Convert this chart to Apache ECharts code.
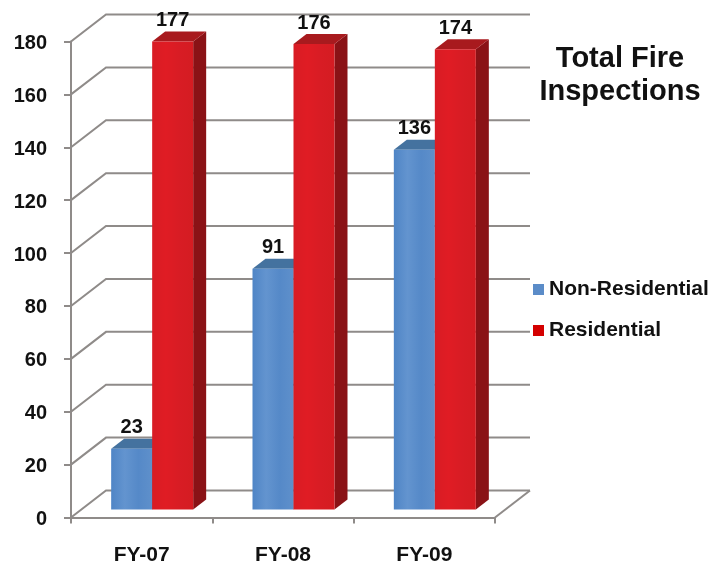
<!DOCTYPE html>
<html>
<head>
<meta charset="utf-8">
<style>html,body{margin:0;padding:0;background:#fff}#c{width:713px;height:563px}</style>
<script src="https://cdn.jsdelivr.net/npm/echarts@6/dist/echarts.min.js"></script>
</head>
<body>
<div id="c"></div>
<script>
const categories = ['FY-07', 'FY-08', 'FY-09'];
const nonResidential = [23, 91, 136];
const residential = [177, 176, 174];
const yTicks = [0, 20, 40, 60, 80, 100, 120, 140, 160, 180];
const FONT = '"Liberation Sans", Arial, sans-serif';
const GRAY = '#8f8b89';
const WALL = [35, -27];      // depth of the chart box
const INSET = [10.5, -8];    // where the bars stand on the floor
const BAR_W = 41;
const BAR_DEPTH = [13, -10];

function poly(points, fill, z2) {
  return { type: 'polygon', shape: { points }, style: { fill }, z2: z2 || 0 };
}
function hGrad(stops) {
  return { type: 'linear', x: 0, y: 0, x2: 1, y2: 0,
    colorStops: stops.map((c, i) => ({ offset: i / (stops.length - 1), color: c })) };
}
function barRenderer(colors, side) {
  return function (params, api) {
    const v = api.value(1);
    const p = api.coord([api.value(0), v]);
    const base = api.coord([api.value(0), 0]);
    const x0 = p[0] + INSET[0] + (side < 0 ? -BAR_W : 0);
    const x1 = x0 + BAR_W;
    const yt = p[1] + INSET[1];
    const yb = base[1] + INSET[1];
    const dx = BAR_DEPTH[0], dy = BAR_DEPTH[1];
    return {
      type: 'group',
      children: [
        poly([[x1, yt], [x1 + dx, yt + dy], [x1 + dx, yb + dy], [x1, yb]], colors.side),
        poly([[x0, yt], [x1, yt], [x1 + dx, yt + dy], [x0 + dx, yt + dy]], colors.top),
        { type: 'rect', shape: { x: x0, y: yt, width: BAR_W, height: yb - yt }, style: { fill: hGrad(colors.front) } },
        { type: 'text', style: {
            x: (x0 + x1) / 2, y: yt - 21, text: String(v), align: 'center', verticalAlign: 'middle',
            font: 'bold 20px ' + FONT, fill: '#111' } }
      ]
    };
  };
}
function wallRenderer(params, api) {
  const cs = params.coordSys;
  const y = api.coord([0, api.value(1)])[1];
  const xl = cs.x, xr = cs.x + cs.width;
  const children = [{
    type: 'polyline',
    shape: { points: [[xl, y], [xl + WALL[0], y + WALL[1]], [xr + WALL[0], y + WALL[1]]] },
    style: { fill: null, stroke: GRAY, lineWidth: 2 }
  }];
  if (api.value(1) === 0) {
    children.push({ type: 'line', shape: { x1: xr, y1: y, x2: xr + WALL[0], y2: y + WALL[1] },
      style: { stroke: GRAY, lineWidth: 2 } });
  }
  return { type: 'group', children };
}

const chart = echarts.init(document.getElementById('c'), null, { renderer: 'canvas' });
chart.setOption({
  animation: false,
  backgroundColor: '#fff',
  title: {
    text: 'Total Fire\nInspections', left: 615, top: 37, textAlign: 'center',
    textStyle: { fontFamily: FONT, fontWeight: 'bold', fontSize: 29, lineHeight: 33, color: '#111' }
  },
  legend: {
    orient: 'vertical', left: 528, top: 274, itemWidth: 11, itemHeight: 11, itemGap: 20, icon: 'rect',
    data: ['Non-Residential', 'Residential'],
    textStyle: { fontFamily: FONT, fontWeight: 'bold', fontSize: 21, color: '#111' }
  },
  grid: { left: 71, top: 41.5, width: 424, height: 476, outerBoundsMode: 'none' },
  xAxis: {
    type: 'category', data: categories,
    axisLine: { lineStyle: { color: GRAY, width: 2 } },
    axisTick: { show: true, length: 6, alignWithLabel: false, lineStyle: { color: GRAY, width: 2 } },
    axisLabel: { fontFamily: FONT, fontWeight: 'bold', fontSize: 21, color: '#111', margin: 27 }
  },
  yAxis: {
    type: 'value', min: 0, max: 180, interval: 20,
    axisLine: { show: true, lineStyle: { color: GRAY, width: 2 } },
    axisTick: { show: true, length: 7, lineStyle: { color: GRAY, width: 2 } },
    splitLine: { show: false },
    axisLabel: { fontFamily: FONT, fontWeight: 'bold', fontSize: 20, color: '#111', margin: 24, verticalAlign: 'top', lineHeight: 4 }
  },
  series: [
    { name: 'wall', type: 'custom', coordinateSystem: 'cartesian2d', silent: true, z: 1,
      renderItem: wallRenderer, encode: { x: 0, y: 1 },
      data: yTicks.map(t => [categories[0], t]) },
    { name: 'Non-Residential', type: 'custom', coordinateSystem: 'cartesian2d', z: 2,
      itemStyle: { color: '#5b8cc8' }, encode: { x: 0, y: 1 },
      renderItem: barRenderer({ front: ['#4f85c6', '#6394cf', '#5589c8', '#5f90cb'], top: '#44729f', side: '#35587d' }, -1),
      data: categories.map((c, i) => [c, nonResidential[i]]) },
    { name: 'Residential', type: 'custom', coordinateSystem: 'cartesian2d', z: 3,
      itemStyle: { color: '#d40000' }, encode: { x: 0, y: 1 },
      renderItem: barRenderer({ front: ['#d81c24', '#e01c24', '#d81c24', '#d41c22'], top: '#a81a1e', side: '#8a1216' }, 1),
      data: categories.map((c, i) => [c, residential[i]]) }
  ]
});
</script>
</body>
</html>
